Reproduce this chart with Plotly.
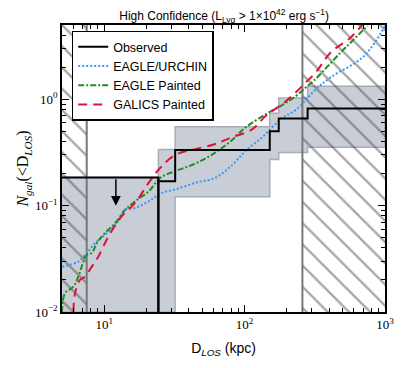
import numpy as np
from plotly import graph_objects as go

# observed cumulative counts (step function) and Poisson band
obs_edges = [24.3, 32, 151, 175, 281, 1000]
obs_n = [0.17, 0.333, 0.502, 0.662, 0.822]
obs_lo = [0.01, 0.121, 0.272, 0.316, 0.355]
obs_hi = [0.338, 0.553, 0.738, 1.03, 1.33]

# upper limit below the first detection
ul_dist = 24.3
ul_n = 0.184
ul_arrow_x = 12.1
ul_arrow_tip = 0.1

# excluded (hatched) distance ranges
hatch_left = [5, 7.5]
hatch_right = [258, 1000]

# model curves
urchin_x = [5.0, 6.53, 7.5, 8.6, 10.1, 12.3, 14.1, 16.6, 20.7, 25.8, 32, 44.6,
            61.9, 79.3, 101, 136, 180, 234, 321, 410, 710, 1000]
urchin_y = [0.0267, 0.0298, 0.0358, 0.0445, 0.0532, 0.0687, 0.0917, 0.095, 0.11,
            0.132, 0.142, 0.164, 0.183, 0.233, 0.325, 0.451, 0.648, 0.805, 1.24,
            1.61, 2.56, 4.9]

eagle_x = [5.0, 5.25, 6.02, 6.53, 7.5, 8.14, 8.85, 10.1, 12.0, 14.1, 16.6, 20.7,
           25.1, 32, 43.1, 58.9, 79.3, 101, 141, 180, 231, 272, 310, 484, 750]
eagle_y = [0.01, 0.015, 0.0173, 0.0215, 0.0345, 0.0358, 0.0445, 0.0552, 0.0687,
           0.0917, 0.11, 0.136, 0.183, 0.211, 0.244, 0.303, 0.402, 0.541, 0.722,
           0.865, 1.07, 1.29, 1.49, 2.76, 4.9]

galics_x = [6.03, 6.19, 6.72, 7.3, 8.15, 9.08, 10.7, 13.3, 16.6, 20.7, 25.1, 32,
            43.4, 60.3, 79.3, 113, 141, 191, 231, 272, 321, 410, 570, 695]
galics_y = [0.01, 0.015, 0.02, 0.0215, 0.0267, 0.0332, 0.0513, 0.0793, 0.106, 0.164,
            0.227, 0.30, 0.338, 0.376, 0.435, 0.521, 0.696, 0.93, 1.16, 1.44, 1.79,
            2.76, 3.82, 5.1]

x_major = [10, 100, 1000]
x_major_text = ["10<sup>1</sup>", "10<sup>2</sup>", "10<sup>3</sup>"]
y_major = [0.01, 0.1, 1]
y_major_text = ["10<sup>\u22122</sup>", "10<sup>\u22121</sup>", "10<sup>0</sup>"]

y_floor, y_top = 0.01, 5.0

fig = go.Figure()

# grey uncertainty region: upper-limit box plus stepped band
box_x = [hatch_left[0], ul_dist, ul_dist, hatch_left[0]]
box_y = [y_floor, y_floor, ul_n, ul_n]
band_x, band_top, band_bot = [], [], []
for i in range(len(obs_n)):
    band_x += [obs_edges[i], obs_edges[i + 1]]
    band_top += [obs_hi[i], obs_hi[i]]
    band_bot += [obs_lo[i], obs_lo[i]]
poly_x = box_x + [None] + band_x + band_x[::-1] + [band_x[0]]
poly_y = box_y + [None] + band_top + band_bot[::-1] + [band_top[0]]
fig.add_trace(go.Scatter(
    x=poly_x, y=poly_y, mode="lines", fill="toself",
    fillcolor="#c9ced6", line=dict(color="#a4aebb", width=1.5),
    showlegend=False, hoverinfo="skip",
))

# hatched excluded regions
for lo, hi in [hatch_left, hatch_right]:
    fig.add_trace(go.Scatter(
        x=[lo, hi, hi, lo, lo], y=[0.005, 0.005, 10, 10, 0.005],
        mode="lines", fill="toself", line=dict(width=0),
        fillcolor="rgba(0,0,0,0)",
        fillpattern=dict(shape="\\", fgcolor="#4d4d4d", bgcolor="rgba(0,0,0,0)",
                         size=15, solidity=0.15),
        showlegend=False, hoverinfo="skip",
    ))
for xv in [hatch_left[1], hatch_right[0]]:
    fig.add_trace(go.Scatter(
        x=[xv, xv], y=[0.005, 10], mode="lines",
        line=dict(color="#777777", width=2), showlegend=False, hoverinfo="skip",
    ))

# models
fig.add_trace(go.Scatter(
    x=urchin_x, y=urchin_y, mode="lines", name="EAGLE/URCHIN", legendrank=2,
    line=dict(color="#3399ff", width=2, dash="2px,2px", shape="spline"),
))
fig.add_trace(go.Scatter(
    x=eagle_x, y=eagle_y, mode="lines", name="EAGLE Painted", legendrank=3,
    line=dict(color="#228b22", width=2, dash="6px,2px,2px,2px", shape="spline"),
))
fig.add_trace(go.Scatter(
    x=galics_x, y=galics_y, mode="lines", name="GALICS Painted", legendrank=4,
    line=dict(color="#dc143c", width=2, dash="9px,6px", shape="spline"),
))

# observed
step_x = [obs_edges[0]] + obs_edges
step_y = [y_floor] + obs_n + [obs_n[-1]]
fig.add_trace(go.Scatter(
    x=step_x, y=step_y, mode="lines", name="Observed", legendrank=1,
    line=dict(color="black", width=2, shape="hv"),
))
fig.add_trace(go.Scatter(
    x=[hatch_left[0], ul_dist, ul_dist], y=[ul_n, ul_n, y_floor], mode="lines",
    line=dict(color="black", width=2), showlegend=False, hoverinfo="skip",
))

fig.add_annotation(
    x=np.log10(ul_arrow_x), y=np.log10(ul_arrow_tip), ax=0, ay=-28,
    text="", showarrow=True, arrowhead=2, arrowsize=1.3, arrowwidth=1.5,
    arrowcolor="black",
)

x_minor = [m * 10 ** e for e in range(0, 3) for m in range(2, 10) if 5 <= m * 10 ** e <= 1000]
y_minor = [m * 10 ** e for e in range(-2, 1) for m in range(2, 10) if m * 10 ** e <= 5]

axis_common = dict(
    type="log", showgrid=False, zeroline=False, showline=True, linecolor="black",
    linewidth=1.5, mirror="allticks", ticks="inside", ticklen=7, tickwidth=1,
    tickcolor="black", tickmode="array", automargin=False,
    tickfont=dict(family="Liberation Serif", size=13, color="black"),
)
fig.update_xaxes(
    **axis_common, range=[np.log10(5), 3], tickvals=x_major, ticktext=x_major_text,
    minor=dict(ticks="inside", ticklen=4, tickcolor="black", tickvals=x_minor),
    title=dict(text="D<sub><i>LOS</i></sub> (kpc)", standoff=12,
               font=dict(family="Liberation Sans", size=14, color="black")),
)
fig.update_yaxes(
    **axis_common, range=[-2, np.log10(y_top)], tickvals=y_major, ticktext=y_major_text,
    minor=dict(ticks="inside", ticklen=4, tickcolor="black", tickvals=y_minor),
    title=dict(text="<i>N</i><sub><i>gal</i></sub>(&lt;D<sub><i>LOS</i></sub>)", standoff=2,
               font=dict(family="Liberation Serif", size=16, color="black")),
)

# the page body keeps an 8px margin, so the figure is 8px smaller than the window
fig.update_layout(
    width=407, height=360,
    margin=dict(l=54, r=30, t=17, b=56),
    paper_bgcolor="white", plot_bgcolor="white",
    title=dict(
        text="High Confidence (L<sub>Ly\u03b1</sub> > 1\u00d710<sup>42</sup> erg s<sup>\u22121</sup>)",
        x=0.531, xanchor="center", y=0.9895, yanchor="top", pad=dict(t=0, b=0),
        font=dict(family="Liberation Sans", size=12, color="black"),
    ),
    legend=dict(
        x=0.03, y=0.98, xanchor="left", yanchor="top",
        bgcolor="white", bordercolor="black", borderwidth=1.5,
        font=dict(family="Liberation Sans", size=12.5, color="black"),
    ),
    showlegend=True,
)

fig.write_html("out.html")
